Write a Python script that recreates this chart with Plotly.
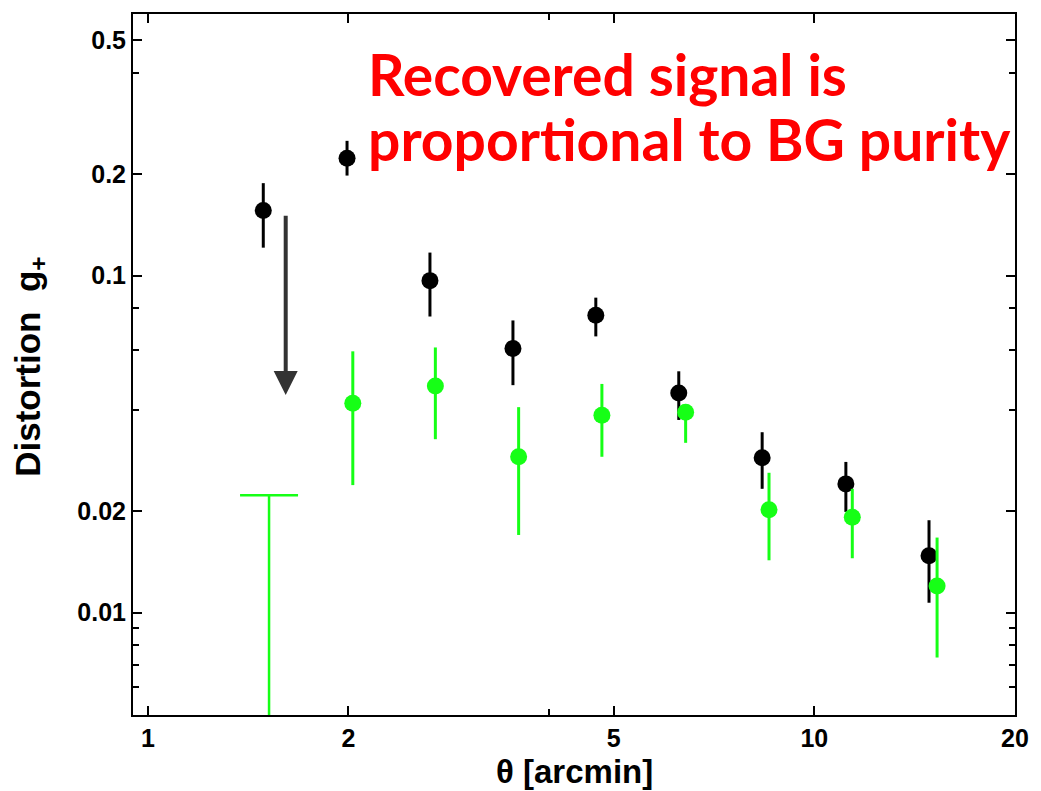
import numpy as np
import plotly.graph_objects as go

# Black (all galaxies) data
theta_black = [1.49, 1.99, 2.65, 3.53, 4.70, 6.26, 8.35, 11.15, 14.86]
g_black = [0.156, 0.223, 0.0966, 0.0608, 0.0762, 0.0448, 0.0288, 0.0241, 0.01476]
g_black_hi = [0.188, 0.251, 0.117, 0.0736, 0.086, 0.052, 0.0343, 0.028, 0.0188]
g_black_lo = [0.121, 0.198, 0.0756, 0.0473, 0.066, 0.0373, 0.0233, 0.0199, 0.0107]

# Green (background-selected) data
theta_green = [2.03, 2.70, 3.60, 4.80, 6.41, 8.55, 11.4, 15.28]
g_green = [0.0418, 0.0470, 0.0290, 0.0385, 0.0393, 0.0202, 0.0192, 0.0120]
g_green_hi = [0.0596, 0.0612, 0.0407, 0.0477, 0.0409, 0.0260, 0.0233, 0.0167]
g_green_lo = [0.0239, 0.0327, 0.0170, 0.0290, 0.0319, 0.0143, 0.0145, 0.00736]

# Green upper limit
theta_ul = [1.52]
g_ul = [0.0223]

# Arrow
arrow_theta = 1.61
arrow_from = 0.161
arrow_to = 0.0442

x_tickvals = [1, 2, 5, 10, 20]
x_minor = [4]
y_tickvals = [0.01, 0.02, 0.1, 0.2, 0.5]
y_minor = [0.006, 0.007, 0.008, 0.009, 0.04, 0.06, 0.08, 0.4]

message_lines = ["Recovered signal is", "proportional to BG purity"]

GREEN = "#16ff16"
FONT = "Liberation Sans, Arial, sans-serif"

fig = go.Figure()

fig.add_trace(go.Scatter(
    x=theta_ul, y=g_ul, mode="markers", marker=dict(size=0.1, color=GREEN, opacity=0),
    error_y=dict(type="data", symmetric=False, array=[0],
                 arrayminus=[g_ul[0] - 0.0005], color=GREEN, thickness=2.5, width=29),
    showlegend=False, hoverinfo="skip"))

fig.add_trace(go.Scatter(
    x=theta_black, y=g_black, mode="markers",
    marker=dict(size=17, color="black"),
    error_y=dict(type="data", symmetric=False,
                 array=[h - v for h, v in zip(g_black_hi, g_black)],
                 arrayminus=[v - l for v, l in zip(g_black, g_black_lo)],
                 color="black", thickness=3, width=0),
    showlegend=False))

fig.add_trace(go.Scatter(
    x=theta_green, y=g_green, mode="markers",
    marker=dict(size=17, color=GREEN),
    error_y=dict(type="data", symmetric=False,
                 array=[h - v for h, v in zip(g_green_hi, g_green)],
                 arrayminus=[v - l for v, l in zip(g_green, g_green_lo)],
                 color=GREEN, thickness=3, width=0),
    showlegend=False))

fig.add_annotation(
    x=np.log10(arrow_theta), y=np.log10(arrow_to),
    ax=np.log10(arrow_theta), ay=np.log10(arrow_from),
    xref="x", yref="y", axref="x", ayref="y",
    showarrow=True, arrowhead=2, arrowsize=1.2, arrowwidth=4, arrowcolor="#333333", text=" ")

for line, ypos in zip(message_lines, [0.915, 0.822]):
    fig.add_annotation(
        x=0.264, y=ypos, xref="paper", yref="paper", xanchor="left", yanchor="middle",
        align="left", showarrow=False, text=line,
        font=dict(family="Lato, sans-serif", size=57, color="#ff0000", weight="bold"))

# axis titles
fig.add_annotation(
    x=0.5, y=-0.081, xref="paper", yref="paper", xanchor="center", yanchor="middle",
    showarrow=False, text="θ [arcmin]",
    font=dict(family=FONT, size=33, color="black", weight="bold"))
fig.add_annotation(
    x=-0.1177, y=0.497, xref="paper", yref="paper", xanchor="center", yanchor="middle",
    showarrow=False, textangle=-90, text="Distortion  g<sub>+</sub>",
    font=dict(family=FONT, size=35, color="black", weight="bold"))

axis_common = dict(
    type="log", showline=True, linecolor="black", linewidth=2, mirror="ticks",
    ticks="inside", ticklen=9, tickwidth=2, tickcolor="black", showgrid=False, zeroline=False,
    tickfont=dict(family=FONT, size=25, color="black", weight="bold"),
)

fig.update_xaxes(
    **axis_common,
    range=[np.log10(0.95), np.log10(20.0)],
    tickvals=x_tickvals, ticktext=[str(v) for v in x_tickvals],
    minor=dict(tickvals=x_minor, ticks="inside", ticklen=6, tickwidth=1.5, tickcolor="black"),
)
fig.update_yaxes(
    **axis_common,
    range=[np.log10(0.00497), np.log10(0.597)],
    tickvals=y_tickvals, ticktext=[str(v) for v in y_tickvals],
    minor=dict(tickvals=y_minor, ticks="inside", ticklen=6, tickwidth=1.5, tickcolor="black"),
)

fig.update_layout(
    width=1041, height=791,
    margin=dict(l=133, r=16, t=12, b=76),
    paper_bgcolor="white", plot_bgcolor="white",
    showlegend=False,
)

fig.write_html("out.html")
